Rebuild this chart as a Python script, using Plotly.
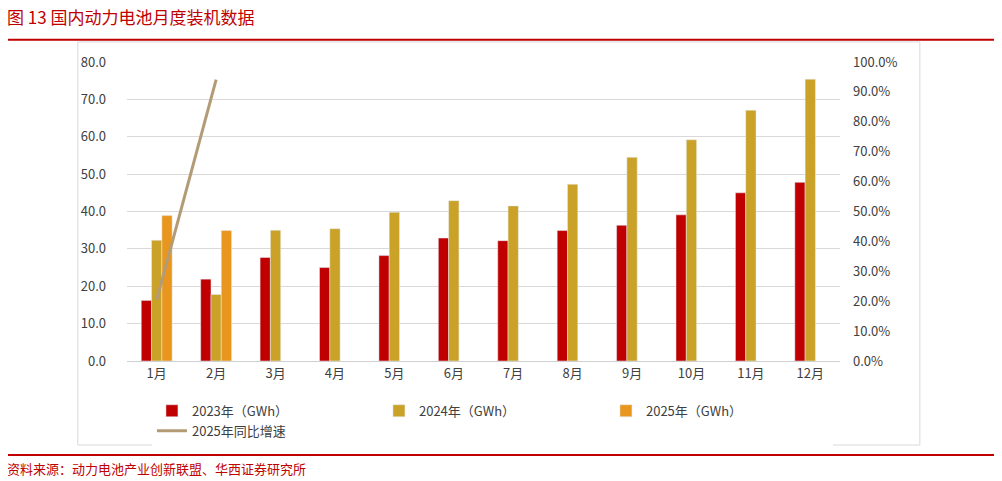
import plotly.graph_objects as go

months = ["1月", "2月", "3月", "4月", "5月", "6月", "7月", "8月", "9月", "10月", "11月", "12月"]
gwh_2023 = [16.2, 21.9, 27.7, 25.0, 28.2, 32.9, 32.2, 34.9, 36.3, 39.1, 45.0, 47.8]
gwh_2024 = [32.3, 17.8, 35.0, 35.4, 39.8, 42.9, 41.5, 47.3, 54.5, 59.2, 67.1, 75.4]
gwh_2025 = [38.9, 34.9, None, None, None, None, None, None, None, None, None, None]
yoy_2025 = [0.205, 0.941, None, None, None, None, None, None, None, None, None, None]

fnt = "Noto Sans CJK SC"
fig = go.Figure()
fig.add_trace(go.Bar(x=months, y=gwh_2023, name="2023年（GWh）", marker_color="#C00000"))
fig.add_trace(go.Bar(x=months, y=gwh_2024, name="2024年（GWh）", marker_color="#C9A227"))
fig.add_trace(go.Bar(x=months, y=gwh_2025, name="2025年（GWh）", marker_color="#E8961E"))
fig.add_trace(go.Scatter(x=months, y=yoy_2025, name="2025年同比增速", mode="lines",
                         line=dict(color="#B39B76", width=3), yaxis="y2"))

# page body has an 8px margin, so the figure is a bit smaller than the window
fig.update_layout(
    width=994, height=473,
    margin=dict(l=119, r=162, t=54, b=120),
    paper_bgcolor="white", plot_bgcolor="white",
    font=dict(family=fnt, size=13, color="#404040"),
    barmode="group", bargap=0.48, bargroupgap=0,
    xaxis=dict(showgrid=False, showline=True, linecolor="#D0D0D0", ticks=""),
    yaxis=dict(range=[0, 80], dtick=10, tickformat=".1f", gridcolor="#D9D9D9",
               zeroline=False, ticklabelstandoff=20),
    yaxis2=dict(range=[0, 1.0], dtick=0.1, tickformat=".1%", overlaying="y", side="right",
                showgrid=False, zeroline=False, ticklabelstandoff=12),
    legend=dict(orientation="h", x=0.035, xanchor="left", y=-0.2, yanchor="middle",
                font=dict(size=13), traceorder="normal", entrywidth=182),
    showlegend=True,
)
fig.add_shape(type="rect", xref="paper", yref="paper", x0=-0.069, x1=1.112, y0=-0.281, y1=1.067,
              line=dict(color="#D9D9D9", width=1), layer="below")
for yy in [1.074, -0.314]:
    fig.add_shape(type="line", xref="paper", yref="paper", x0=-0.171, x1=1.22, y0=yy, y1=yy,
                  line=dict(color="#C00000", width=2))
fig.add_annotation(text="图 13 国内动力电池月度装机数据", xref="paper", yref="paper", x=-0.171, y=1.151,
                   xanchor="left", yanchor="middle", showarrow=False,
                   font=dict(family=fnt, size=17, color="#C00000"))
fig.add_annotation(text="资料来源：动力电池产业创新联盟、华西证券研究所", xref="paper", yref="paper",
                   x=-0.171, y=-0.358, xanchor="left", yanchor="middle", showarrow=False,
                   font=dict(family=fnt, size=13, color="#C00000"))
fig.write_html("out.html")
